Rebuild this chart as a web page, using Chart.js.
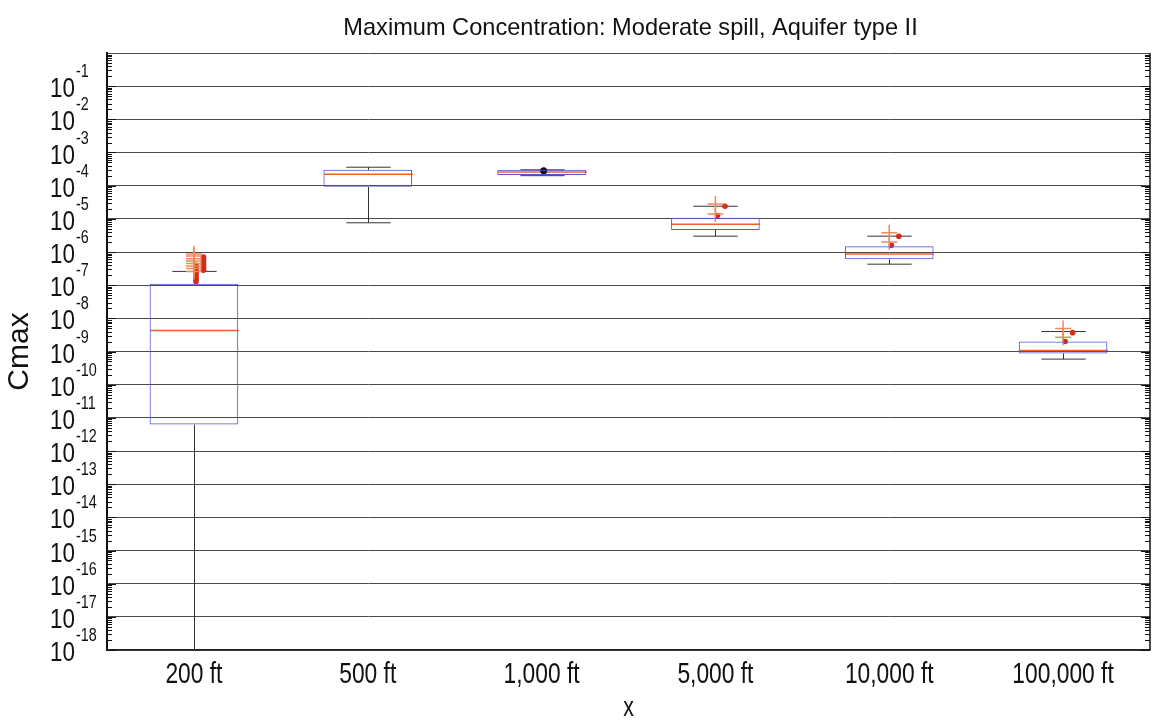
<!DOCTYPE html>
<html>
<head>
<meta charset="utf-8">
<script src="https://cdn.jsdelivr.net/npm/chart.js@4.4.0/dist/chart.umd.min.js"></script>
<style>
  html, body { margin: 0; padding: 0; background: #fff; }
  #wrap { width: 1161px; height: 723px; }
</style>
</head>
<body>
<div id="wrap"><canvas id="c"></canvas></div>
<script>
const FONT = "'Liberation Sans', Arial, sans-serif";
const SQUEEZE = 0.76; // scanned text is narrow

const chartTitle = 'Maximum Concentration: Moderate spill, Aquifer type II';

// categories along x
const categories = ['200 ft', '500 ft', '1,000 ft', '5,000 ft', '10,000 ft', '100,000 ft'];

// box statistics
const whiskerLow  = [1e-18,   7.6e-6, 2.0e-4, 3.0e-6,  4.3e-7, 5.9e-10];
const quart1      = [6.3e-12, 9.3e-5, 2.1e-4, 4.6e-6,  6.0e-7, 8.7e-10];
const medians     = [4.3e-9,  2.2e-4, 2.6e-4, 6.9e-6,  8.7e-7, 1.07e-9];
const quart3      = [1.1e-7,  3.0e-4, 3.0e-4, 1.07e-5, 1.5e-6, 2.0e-9];
const whiskerHigh = [2.6e-7,  3.6e-4, 3.0e-4, 2.4e-5,  3.0e-6, 4.0e-9];

// outliers, per category
const outPlus = [
  [8.7e-7, 7.6e-7, 6.3e-7, 5.4e-7, 4.5e-7, 3.8e-7, 3.2e-7, 2.6e-7],
  [], [], [2.8e-5, 1.4e-5], [3.8e-6, 2.0e-6], [4.9e-9, 2.7e-9]
];
const outNear = [
  [4.0e-7, 3.5e-7, 3.0e-7, 2.6e-7, 2.3e-7, 2.0e-7, 1.7e-7, 1.5e-7, 1.3e-7],
  [], [], [1.26e-5], [1.6e-6], [2.0e-9]
];
const outFar = [
  [7.1e-7, 6.3e-7, 5.5e-7, 4.8e-7, 4.2e-7, 3.6e-7, 3.2e-7, 2.8e-7],
  [], [], [2.4e-5], [3.0e-6], [3.7e-9]
];
const outDark = [[], [], [2.8e-4], [], [], []];

// y tick labels: exponents of 10
const tickExponents = [-1, -2, -3, -4, -5, -6, -7, -8, -9, -10, -11, -12, -13, -14, -15, -16, -17, -18];

function toPoints(groups, shift) {
  const pts = [];
  groups.forEach((vals, i) => vals.forEach(v => pts.push({ x: i + shift, y: v })));
  return pts;
}

function seg(ctx, x1, y1, x2, y2) {
  ctx.beginPath();
  ctx.moveTo(x1, y1);
  ctx.lineTo(x2, y2);
  ctx.stroke();
}

// narrow text, like the scan
function narrowText(ctx, text, x, y, size, align, squeeze) {
  ctx.save();
  ctx.font = size + 'px ' + FONT;
  ctx.textAlign = align;
  ctx.textBaseline = 'alphabetic';
  ctx.translate(x, y);
  ctx.scale(squeeze || SQUEEZE, 1);
  ctx.fillText(text, 0, 0);
  ctx.restore();
}

// whiskers, caps and medians, drawn through the scales
const boxParts = {
  id: 'boxParts',
  beforeDatasetsDraw(chart) {
    const { ctx, scales: { x, y } } = chart;
    const bars = chart.getDatasetMeta(0).data;
    ctx.save();
    categories.forEach((c, i) => {
      const cx = Math.round(x.getPixelForValue(i)) + 0.5;
      const w = bars[i].width;
      const cap = w / 4;
      ctx.strokeStyle = '#333';
      ctx.lineWidth = 1;
      const yHi = y.getPixelForValue(whiskerHigh[i]);
      const yLo = y.getPixelForValue(whiskerLow[i]);
      seg(ctx, cx, y.getPixelForValue(quart3[i]), cx, yHi);
      seg(ctx, cx, y.getPixelForValue(quart1[i]), cx, yLo);
      seg(ctx, cx - cap, yHi, cx + cap, yHi);
      if (whiskerLow[i] > y.min) seg(ctx, cx - cap, yLo, cx + cap, yLo);
      ctx.strokeStyle = '#f0602a';
      ctx.lineWidth = 1.5;
      const ym = y.getPixelForValue(medians[i]);
      seg(ctx, cx - w / 2, ym, cx + w / 2, ym);
    });
    ctx.restore();
  },
  afterDraw(chart) {
    const { ctx, scales: { x, y }, chartArea: a } = chart;
    ctx.save();
    // right border
    ctx.strokeStyle = '#111';
    ctx.lineWidth = 1.5;
    seg(ctx, a.right, a.top, a.right, a.bottom);
    // inside minor ticks on both sides
    ctx.lineWidth = 1;
    for (let e = -18; e < 0; e++) {
      for (let k = 1; k <= 9; k++) {
        const py = Math.round(y.getPixelForValue(k * Math.pow(10, e))) + 0.5;
        const len = k === 1 ? 9 : 5;
        seg(ctx, a.left, py, a.left + len, py);
        seg(ctx, a.right - len, py, a.right, py);
      }
    }
    ctx.fillStyle = '#111';
    // title over the plot
    narrowText(ctx, chartTitle, (a.left + a.right) / 2 + 2, 35, 23.6, 'center', 1);
    // y tick labels 10^n
    tickExponents.forEach(e => {
      const py = y.getPixelForValue(Math.pow(10, e));
      narrowText(ctx, '10', 75, py + 11, 28, 'right', 0.8);
      narrowText(ctx, String(e), 76, py - 9, 18, 'left', 0.8);
    });
    // x tick labels and axis title
    categories.forEach((c, i) => {
      narrowText(ctx, c, x.getPixelForValue(i), a.bottom + 33, 30, 'center');
    });
    narrowText(ctx, 'x', (a.left + a.right) / 2, 716, 28, 'center');
    ctx.restore();
  }
};

const majorTicks = [];
for (let e = 0; e >= -18; e--) majorTicks.push({ value: Math.pow(10, e) });

new Chart(document.getElementById('c'), {
  data: {
    labels: categories,
    datasets: [
      {
        type: 'bar',
        data: quart1.map((v, i) => [v, quart3[i]]),
        backgroundColor: 'rgba(0,0,0,0)',
        borderColor: '#5656d8',
        borderWidth: 1,
        borderSkipped: false,
        grouped: false,
        barPercentage: 0.51,
        categoryPercentage: 1,
        xAxisID: 'x', yAxisID: 'y'
      },
      {
        type: 'scatter',
        data: toPoints(outPlus, 0),
        pointStyle: 'cross', radius: 8,
        borderColor: '#f28a58', borderWidth: 1.5,
        xAxisID: 'xo', yAxisID: 'y'
      },
      {
        type: 'scatter',
        data: toPoints(outNear, 0.012),
        pointStyle: 'circle', radius: 2.8,
        backgroundColor: '#d42a1a', borderColor: '#d42a1a', borderWidth: 0,
        xAxisID: 'xo', yAxisID: 'y'
      },
      {
        type: 'scatter',
        data: toPoints(outFar, 0.055),
        pointStyle: 'circle', radius: 2.8,
        backgroundColor: '#d42a1a', borderColor: '#d42a1a', borderWidth: 0,
        xAxisID: 'xo', yAxisID: 'y'
      },
      {
        type: 'scatter',
        data: toPoints(outDark, 0.012),
        pointStyle: 'circle', radius: 3.5,
        backgroundColor: '#111', borderColor: '#111', borderWidth: 0,
        xAxisID: 'xo', yAxisID: 'y'
      }
    ]
  },
  options: {
    responsive: true,
    maintainAspectRatio: false,
    animation: false,
    layout: { padding: { top: 53, right: 11, left: 0, bottom: 0 } },
    plugins: {
      legend: { display: false },
      tooltip: { enabled: false },
      title: { display: false }
    },
    scales: {
      x: {
        type: 'category',
        offset: true,
        grid: { display: false, drawTicks: false },
        border: { color: '#222', width: 1.5 },
        ticks: { display: false },
        afterFit: s => { s.height = 73; }
      },
      xo: {
        type: 'linear',
        display: false,
        min: -0.5, max: 5.5
      },
      y: {
        type: 'logarithmic',
        min: 1e-18, max: 1,
        afterBuildTicks: s => { s.ticks = majorTicks.slice(); },
        afterFit: s => { s.width = 107; },
        ticks: { display: false },
        grid: { color: '#4a4a4a', lineWidth: 1, drawTicks: false },
        border: { color: '#111', width: 2 },
        title: { display: true, text: 'Cmax', font: { family: FONT, size: 30 }, color: '#111', padding: { top: 2, bottom: 0 } }
      }
    }
  },
  plugins: [boxParts]
});
</script>
</body>
</html>
